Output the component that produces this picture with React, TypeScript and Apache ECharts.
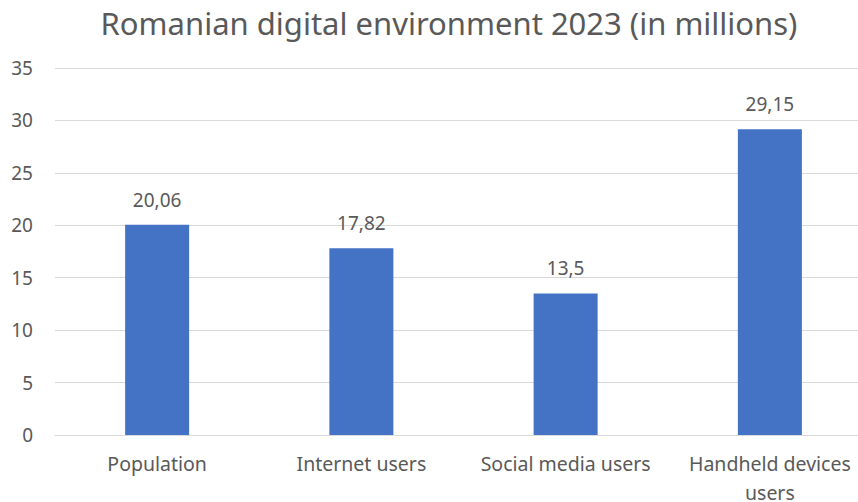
import React, { useEffect, useRef } from "react";
import * as echarts from "echarts";

const categories = ["Population", "Internet users", "Social media users", "Handheld devices\nusers"];
const values = [20.06, 17.82, 13.5, 29.15];
const yTicks = { min: 0, max: 35, interval: 5 };
const titleText = "Romanian digital environment 2023 (in millions)";

export default function App() {
  const ref = useRef<HTMLDivElement>(null);
  useEffect(() => {
    const chart = echarts.init(ref.current!, null, { renderer: "svg" });
    const font = "'Noto Sans', 'Open Sans', sans-serif";
    chart.setOption({
      animation: false,
      backgroundColor: "#ffffff",
      graphic: [
        {
          type: "text",
          x: 449,
          y: 23,
          style: {
            text: titleText,
            fontFamily: font,
            fontSize: 31,
            fill: "#595959",
            textAlign: "center",
            textVerticalAlign: "middle",
          },
        },
      ],
      grid: {
        left: 55,
        top: 68,
        width: 817,
        height: 367,
        containLabel: false,
        outerBoundsMode: "none",
      },
      xAxis: {
        type: "category",
        data: categories,
        axisLine: { show: true, lineStyle: { color: "#d9d9d9", width: 1 } },
        axisTick: { show: false },
        axisLabel: {
          color: "#595959",
          fontFamily: font,
          fontSize: 19.5,
          lineHeight: 29,
          margin: 14,
          interval: 0,
        },
      },
      yAxis: {
        type: "value",
        min: yTicks.min,
        max: yTicks.max,
        interval: yTicks.interval,
        axisLine: { show: false },
        axisTick: { show: false },
        splitLine: { lineStyle: { color: "#d9d9d9", width: 1 } },
        axisLabel: {
          color: "#595959",
          fontFamily: font,
          fontSize: 19,
          margin: 22,
        },
      },
      series: [
        {
          type: "bar",
          data: values,
          barWidth: 64,
          itemStyle: { color: "#4472C4" },
          label: {
            show: true,
            position: "top",
            distance: 15,
            color: "#595959",
            fontFamily: font,
            fontSize: 19,
            lineHeight: 20,
            formatter: (p: any) => String(p.value).replace(".", ","),
          },
        },
      ],
    });
    return () => chart.dispose();
  }, []);
  return (
    <div
      ref={ref}
      style={{ position: "fixed", left: 0, top: 0, width: 858, height: 502, background: "#fff" }}
    />
  );
}
